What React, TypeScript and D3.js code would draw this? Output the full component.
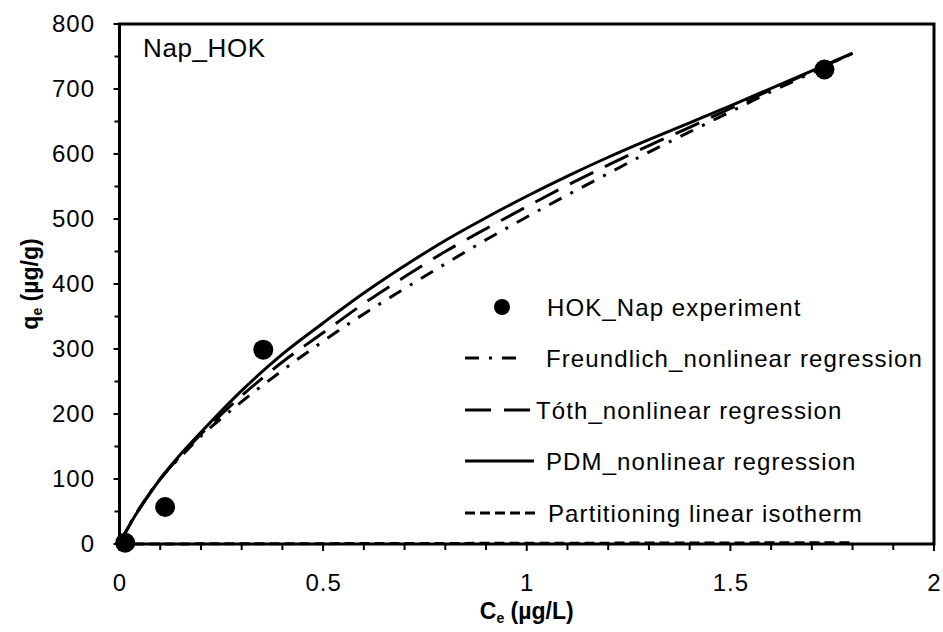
import React from "react";
import * as d3 from "d3";

// ---- data ----
const ceGrid = [0, 0.02, 0.05, 0.1, 0.15, 0.2, 0.3, 0.4, 0.5, 0.6, 0.7, 0.8, 0.9, 1.0, 1.1, 1.2, 1.3, 1.4, 1.5, 1.6, 1.7, 1.8];
const pdmQe = [0, 24, 55, 100, 138, 172, 236, 292, 340, 386, 428, 467, 502, 535, 566, 595, 622, 648, 674, 701, 728, 755];
const tothQe = [0, 24, 55, 100, 136, 169, 228, 280, 325, 370, 411, 450, 485, 519, 552, 583, 613, 641, 670, 699, 727, 755];
const freundlichQe = [0, 25, 56, 100, 134, 166, 219, 267, 312, 354, 393, 431, 468, 503, 537, 570, 603, 634, 665, 696, 725, 755];
const ceLinear = [0, 1.8];
const qeLinear = [0, 2];
const ceExp = [0.014, 0.112, 0.353, 1.731];
const qeExp = [2, 57, 299, 730];

const xMajor = [0, 0.5, 1, 1.5, 2];
const xMajorLabels = ["0", "0.5", "1", "1.5", "2"];
const xMinor = [0.1, 0.2, 0.3, 0.4, 0.6, 0.7, 0.8, 0.9, 1.1, 1.2, 1.3, 1.4, 1.6, 1.7, 1.8, 1.9];
const yMajor = [0, 100, 200, 300, 400, 500, 600, 700, 800];
const yMinor = [50, 150, 250, 350, 450, 550, 650, 750];

const legendLabels = [
  "HOK_Nap experiment",
  "Freundlich_nonlinear regression",
  "Tóth_nonlinear regression",
  "PDM_nonlinear regression",
  "Partitioning linear isotherm",
];

const FONT = "'Liberation Sans', Arial, sans-serif";

export default function App() {
  const W = 943, H = 632;
  const x = d3.scaleLinear().domain([0, 2]).range([119.5, 934]);
  const y = d3.scaleLinear().domain([0, 800]).range([544, 24]);

  const line = d3
    .line<[number, number]>()
    .x((d) => x(d[0]))
    .y((d) => y(d[1]))
    .curve(d3.curveCatmullRom.alpha(0.5));

  const pdm = ceGrid.map((c, i) => [c, pdmQe[i]] as [number, number]);
  const toth = ceGrid.map((c, i) => [c, tothQe[i]] as [number, number]);
  const fr = ceGrid.map((c, i) => [c, freundlichQe[i]] as [number, number]);
  const lin = ceLinear.map((c, i) => [c, qeLinear[i]] as [number, number]);

  const styles = [
    { dash: "14,10,3,10" },
    { dash: "26,13" },
    { dash: "none" },
    { dash: "10,5" },
  ];
  const legendY = [307, 358, 410, 461, 513];
  const lineStart = 465;
  const lineEnds = [0, 521, 534, 534, 539];
  const textX = [547, 546, 536, 546, 548];

  const x0 = x(0), x1 = x(2), y0 = y(0), y1 = y(800);

  return (
    <svg
      width={W}
      height={H}
      style={{ position: "absolute", left: 0, top: 0, background: "#fff" }}
      fontFamily={FONT}
    >
      <rect x={0} y={0} width={W} height={H} fill="#fff" />
      {/* curves */}
      <path d={line(lin) || ""} fill="none" stroke="#000" strokeWidth={3} strokeDasharray={styles[3].dash} />
      <path d={line(fr) || ""} fill="none" stroke="#000" strokeWidth={3} strokeDasharray={styles[0].dash} />
      <path d={line(toth) || ""} fill="none" stroke="#000" strokeWidth={3} strokeDasharray={styles[1].dash} />
      <path d={line(pdm) || ""} fill="none" stroke="#000" strokeWidth={3} />
      {ceExp.map((c, i) => (
        <circle key={i} cx={x(c)} cy={y(qeExp[i])} r={10} fill="#000" />
      ))}

      {/* frame */}
      <rect x={x0} y={y1} width={x1 - x0} height={y0 - y1} fill="none" stroke="#000" strokeWidth={3} />

      {/* y ticks */}
      {yMajor.map((v) => (
        <g key={"ym" + v}>
          <line x1={x0 - 6} x2={x0} y1={y(v)} y2={y(v)} stroke="#000" strokeWidth={2} />
          <text x={95} y={y(v) + 8} textAnchor="end" fontSize={24} letterSpacing={1}>
            {String(v)}
          </text>
        </g>
      ))}
      {yMinor.map((v) => (
        <line key={"yn" + v} x1={x0 - 5} x2={x0} y1={y(v)} y2={y(v)} stroke="#000" strokeWidth={2} />
      ))}

      {/* x ticks */}
      {xMajor.map((v, i) => (
        <g key={"xm" + v}>
          <line x1={x(v)} x2={x(v)} y1={y0} y2={y0 + 7} stroke="#000" strokeWidth={2} />
          <text x={x(v) + 0.5} y={591} textAnchor="middle" fontSize={24} letterSpacing={1}>
            {xMajorLabels[i]}
          </text>
        </g>
      ))}
      {xMinor.map((v) => (
        <line key={"xn" + v} x1={x(v)} x2={x(v)} y1={y0} y2={y0 + 6} stroke="#000" strokeWidth={2} />
      ))}

      {/* axis titles */}
      <text x={(x0 + x1) / 2} y={619} textAnchor="middle" fontSize={23} fontWeight="bold">
        C<tspan fontSize={14} dy={4}>e</tspan>
        <tspan dy={-4}> (µg/L)</tspan>
      </text>
      <text
        transform={`translate(38, ${(y0 + y1) / 2}) rotate(-90)`}
        textAnchor="middle"
        fontSize={23}
        fontWeight="bold"
      >
        q<tspan fontSize={14} dy={4}>e</tspan>
        <tspan dy={-4}> (µg/g)</tspan>
      </text>

      {/* panel label */}
      <text x={143} y={57} fontSize={26} letterSpacing={0.6}>
        Nap_HOK
      </text>

      {/* legend */}
      <circle cx={502} cy={legendY[0]} r={8} fill="#000" />
      {[1, 2, 3, 4].map((k) => (
        <line
          key={"ll" + k}
          x1={lineStart}
          x2={lineEnds[k]}
          y1={legendY[k]}
          y2={legendY[k]}
          stroke="#000"
          strokeWidth={3}
          strokeDasharray={styles[k - 1].dash}
        />
      ))}
      {legendLabels.map((t, k) => (
        <text key={"lt" + k} x={textX[k]} y={legendY[k] + 8.5} fontSize={24} letterSpacing={1.1}>
          {t}
        </text>
      ))}
    </svg>
  );
}
